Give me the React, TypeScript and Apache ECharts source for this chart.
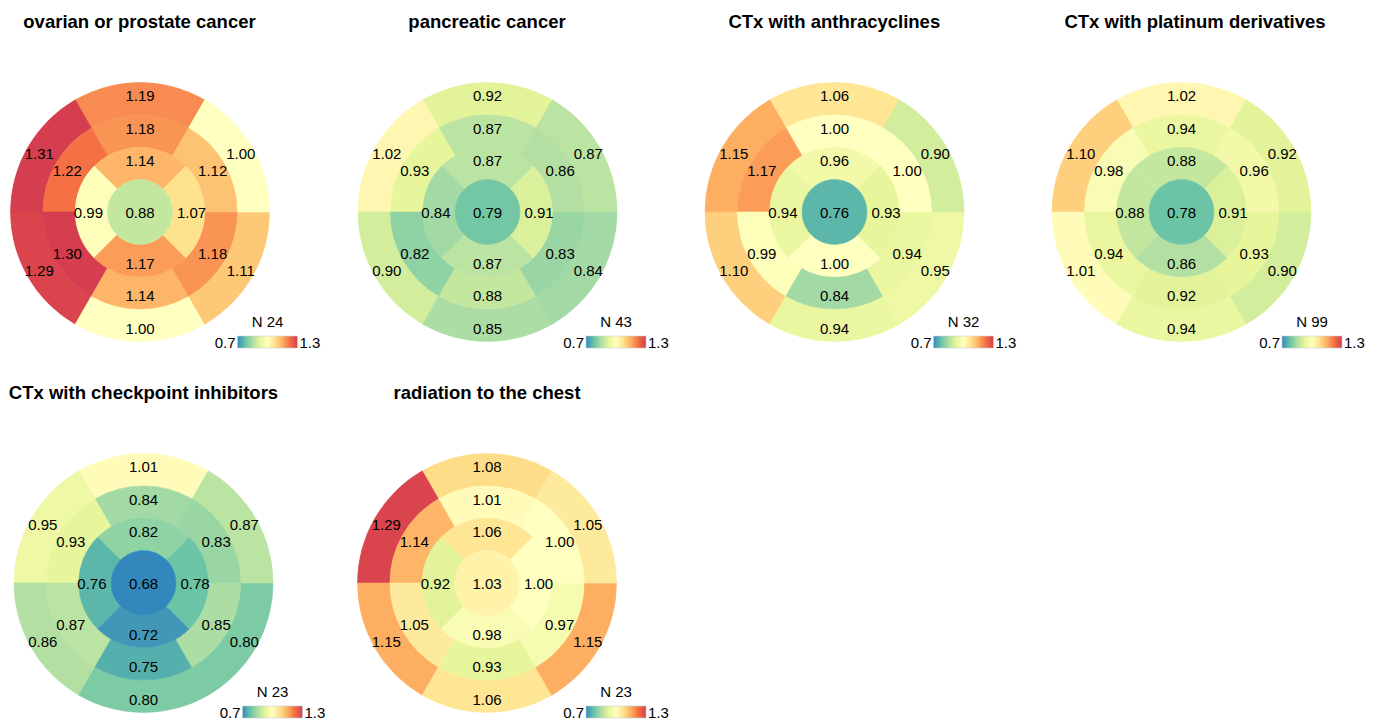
import React, { useEffect, useRef } from "react";
import * as echarts from "echarts";

// ---- data ----
const TITLES = [
  "ovarian or prostate cancer",
  "pancreatic cancer",
  "CTx with anthracyclines",
  "CTx with platinum derivatives",
  "CTx with checkpoint inhibitors",
  "radiation to the chest",
];
const N_VALUES = [24, 43, 32, 99, 23, 23];
// AHA order: anterior, anteroseptal, inferoseptal, inferior, inferolateral, anterolateral
const BASAL = [
  [1.19, 1.31, 1.29, 1.0, 1.11, 1.0],
  [0.92, 1.02, 0.9, 0.85, 0.84, 0.87],
  [1.06, 1.15, 1.1, 0.94, 0.95, 0.9],
  [1.02, 1.1, 1.01, 0.94, 0.9, 0.92],
  [1.01, 0.95, 0.86, 0.8, 0.8, 0.87],
  [1.08, 1.29, 1.15, 1.06, 1.15, 1.05],
];
const MID = [
  [1.18, 1.22, 1.3, 1.14, 1.18, 1.12],
  [0.87, 0.93, 0.82, 0.88, 0.83, 0.86],
  [1.0, 1.17, 0.99, 0.84, 0.94, 1.0],
  [0.94, 0.98, 0.94, 0.92, 0.93, 0.96],
  [0.84, 0.93, 0.87, 0.75, 0.85, 0.83],
  [1.01, 1.14, 1.05, 0.93, 0.97, 1.0],
];
// anterior, septal, inferior, lateral
const APICAL = [
  [1.14, 0.99, 1.17, 1.07],
  [0.87, 0.84, 0.87, 0.91],
  [0.96, 0.94, 1.0, 0.93],
  [0.88, 0.88, 0.86, 0.91],
  [0.82, 0.76, 0.72, 0.78],
  [1.06, 0.92, 0.98, 1.0],
];
const APEX = [0.88, 0.79, 0.76, 0.78, 0.68, 1.03];
const SCALE_MIN = 0.7;
const SCALE_MAX = 1.3;
const SCALE_TICKS = ["0.7", "1.3"];
const SPECTRAL_R = [
  "#3288bd", "#66c2a5", "#abdda4", "#e6f598", "#ffffbf",
  "#fee08b", "#fdae61", "#f46d43", "#d53e4f",
];

// ---- layout ----
const CENTERS = [
  [140, 212], [487.5, 212], [834.5, 212], [1181.5, 212],
  [143.5, 583], [487, 583],
];
const TITLE_POS = [
  [139.5, 21], [487, 21], [834.3, 21], [1195, 21],
  [143.5, 392], [487, 392],
];
const CBAR_POS = [
  [237.5, 336], [586, 336], [933.5, 336], [1282, 336],
  [242.5, 706], [586, 706],
];
const RADII = [32.4, 64.8, 97.1, 129.5];
const FONT = '"Liberation Sans", Arial, Helvetica, sans-serif';

const colorOf = (v: number) => {
  const t = Math.min(1, Math.max(0, (v - SCALE_MIN) / (SCALE_MAX - SCALE_MIN)));
  return echarts.color.lerp(t, SPECTRAL_R) as string;
};

export default function App() {
  const ref = useRef<HTMLDivElement>(null);
  useEffect(() => {
    if (!ref.current) return;
    const chart = echarts.init(ref.current, undefined, { renderer: "svg" });

    const series: any[] = [];
    const graphics: any[] = [];

    const addRing = (p: number, vals: number[], r0: number, r1: number, start: number, center: boolean) => {
      series.push({
        type: "pie",
        center: CENTERS[p],
        radius: [r0, r1],
        startAngle: start,
        clockwise: false,
        silent: true,
        animation: false,
        avoidLabelOverlap: false,
        emphasis: { disabled: true },
        labelLine: { show: false },
        label: {
          show: true,
          position: center ? "center" : "inside",
          rotate: 0,
          color: "#000",
          fontSize: 15,
          fontFamily: FONT,
          formatter: (q: any) => Number(q.data.ratio).toFixed(2),
        },
        data: vals.map((v, i) => {
          const c = colorOf(v);
          return {
            name: "s" + i,
            value: 1,
            ratio: v,
            itemStyle: { color: c, borderColor: c, borderWidth: 0.6 },
          };
        }),
      });
    };

    for (let p = 0; p < TITLES.length; p++) {
      addRing(p, BASAL[p], RADII[2], RADII[3], 60, false);
      addRing(p, MID[p], RADII[1], RADII[2], 60, false);
      addRing(p, APICAL[p], RADII[0], RADII[1], 45, false);
      addRing(p, [APEX[p]], 0, RADII[0], 90, true);

      graphics.push({
        type: "text",
        x: TITLE_POS[p][0],
        y: TITLE_POS[p][1],
        style: {
          text: TITLES[p],
          fontSize: 18.5,
          fontWeight: "bold",
          fontFamily: FONT,
          fill: "#000",
          align: "center",
          verticalAlign: "middle",
        },
      });

      const [bx, by] = CBAR_POS[p];
      const bw = 60, bh = 12;
      graphics.push({
        type: "rect",
        shape: { x: bx, y: by, width: bw, height: bh },
        style: {
          fill: {
            type: "linear", x: 0, y: 0, x2: 1, y2: 0,
            colorStops: SPECTRAL_R.map((c, i) => ({ offset: i / (SPECTRAL_R.length - 1), color: c })),
          },
          stroke: "#c8d0d8",
          lineWidth: 0.6,
        },
      });
      graphics.push({
        type: "text",
        x: bx - 2,
        y: by + bh / 2,
        style: { text: SCALE_TICKS[0], fontSize: 15, fontFamily: FONT, fill: "#000", align: "right", verticalAlign: "middle" },
      });
      graphics.push({
        type: "text",
        x: bx + bw + 2,
        y: by + bh / 2,
        style: { text: SCALE_TICKS[1], fontSize: 15, fontFamily: FONT, fill: "#000", align: "left", verticalAlign: "middle" },
      });
      graphics.push({
        type: "text",
        x: bx + bw / 2,
        y: by - 15,
        style: { text: "N " + N_VALUES[p], fontSize: 15, fontFamily: FONT, fill: "#000", align: "center", verticalAlign: "middle" },
      });
    }

    chart.setOption({
      animation: false,
      backgroundColor: "#fff",
      series,
      graphic: graphics,
    });
    return () => chart.dispose();
  }, []);
  return (
    <div
      ref={ref}
      style={{ position: "absolute", left: 0, top: 0, width: 1381, height: 722 }}
    />
  );
}
